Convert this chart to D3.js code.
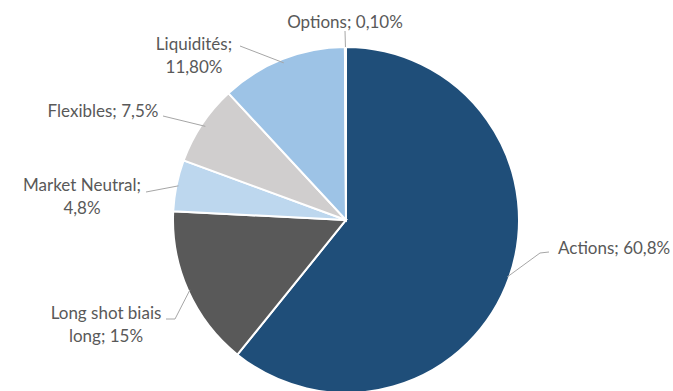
<!DOCTYPE html>
<html>
<head>
<meta charset="utf-8">
<script src="https://cdn.jsdelivr.net/npm/d3@7"></script>
<style>
  body { margin: 0; background: #fff; }
  text { font-family: Lato, "Open Sans", sans-serif; font-size: 17px; fill: #595959; }
</style>
</head>
<body>
<div id="chart"></div>
<script>
// data, clockwise from 12 o'clock
const categories = ["Actions", "Long shot biais long", "Market Neutral", "Flexibles", "Liquidités", "Options"];
const values = [60.8, 15, 4.8, 7.5, 11.8, 0.1];
const valueLabels = ["60,8%", "15%", "4,8%", "7,5%", "11,80%", "0,10%"];
const colors = ["#1F4E79", "#595959", "#BDD7EE", "#D0CECE", "#9DC3E6", "#9DC3E6"];

// label layout (text lines, anchor x, first baseline, leader line points)
const labelLayout = [
  {lines: ["Actions; 60,8%"], x: 558, y: 254, anchor: "start", leader: [[549, 252], [540, 253]], endR: 2},
  {lines: ["Long shot biais", "long; 15%"], x: 106, y: 319, anchor: "middle", leader: [[166, 319], [175, 319]], endR: 2},
  {lines: ["Market Neutral;", "4,8%"], x: 82, y: 191, anchor: "middle", leader: [[146, 192]], endR: 2},
  {lines: ["Flexibles; 7,5%"], x: 103, y: 117, anchor: "middle", leader: [[163, 116]], endR: 4},
  {lines: ["Liquidités;", "11,80%"], x: 194, y: 50, anchor: "middle", leader: [[240, 46]], endR: 4},
  {lines: ["Options; 0,10%"], x: 345, y: 28, anchor: "middle", leader: [[345, 31]], endR: 0}
];

const width = 673, height = 391;
const cx = 346, cy = 220, radius = 173;

const svg = d3.create("svg")
  .attr("width", width)
  .attr("height", height);

const pie = d3.pie().sort(null).value(d => d)(values);
const arc = d3.arc().innerRadius(0).outerRadius(radius);

const g = svg.append("g").attr("transform", `translate(${cx},${cy})`);

g.selectAll("path")
  .data(pie)
  .join("path")
  .attr("d", arc)
  .attr("fill", (d, i) => colors[i])
  .attr("stroke", "#fff")
  .attr("stroke-width", 2);

labelLayout.forEach((l, i) => {
  const p = pie[i];
  const mid = (p.startAngle + p.endAngle) / 2;
  const r = radius - l.endR;
  const end = [cx + r * Math.sin(mid), cy - r * Math.cos(mid)];
  const pts = l.leader.concat([end]);
  svg.append("path")
    .attr("d", d3.line()(pts))
    .attr("fill", "none")
    .attr("stroke", "#a6a6a6")
    .attr("stroke-width", 1);

  const t = svg.append("text")
    .attr("text-anchor", l.anchor)
    .attr("x", l.x)
    .attr("y", l.y);
  l.lines.forEach((line, j) => {
    t.append("tspan").attr("x", l.x).attr("dy", j === 0 ? 0 : 23).text(line);
  });
});

document.getElementById("chart").appendChild(svg.node());
</script>
</body>
</html>
